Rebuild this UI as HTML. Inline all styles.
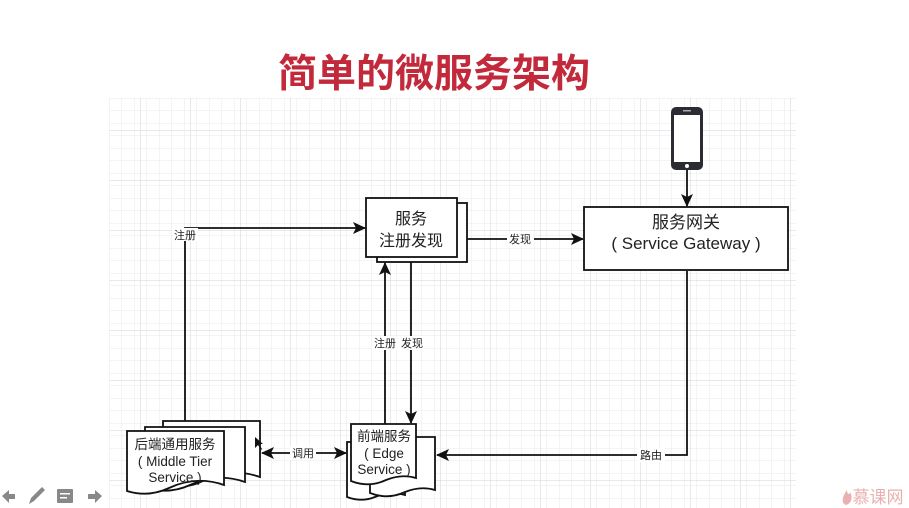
<!DOCTYPE html>
<html><head><meta charset="utf-8"><style>
html,body{margin:0;padding:0;background:#fff;width:909px;height:508px;overflow:hidden}
svg{display:block}
text{font-family:"Liberation Sans","Noto Sans CJK SC",sans-serif}
</style></head><body>
<svg width="909" height="508" viewBox="0 0 909 508" xmlns="http://www.w3.org/2000/svg">
<defs>
<pattern id="minor" x="109" y="98" width="12.5" height="12.5" patternUnits="userSpaceOnUse">
<path d="M0 0H12.5M0 0V12.5" stroke="#eaeaed" stroke-width="1" fill="none"/>
</pattern>
<pattern id="major" x="140" y="130" width="50" height="50" patternUnits="userSpaceOnUse">
<path d="M0 0H50M0 0V50" stroke="#dcdce0" stroke-width="1.3" fill="none"/>
</pattern>
<marker id="ar" markerWidth="13" markerHeight="12" refX="12" refY="6" orient="auto" markerUnits="userSpaceOnUse">
<path d="M0 0L13 6L0 12L3 6Z" fill="#111"/>
</marker>
<marker id="al" markerWidth="13" markerHeight="12" refX="1" refY="6" orient="auto" markerUnits="userSpaceOnUse">
<path d="M13 0L0 6L13 12L10 6Z" fill="#111"/>
</marker>
</defs>
<rect x="109" y="98" width="687" height="410" fill="url(#minor)"/>
<rect x="109" y="98" width="687" height="410" fill="url(#major)"/>

<text x="434" y="87" font-size="39" fill="#c22a3c" text-anchor="middle" style="font-family:'Noto Sans CJK SC',sans-serif;font-weight:bold">简单的微服务架构</text>

<g stroke="#111" stroke-width="1.8" fill="#fff">
<rect x="377" y="203" width="90" height="59"/>
<rect x="366" y="198" width="91" height="59"/>
<rect x="584" y="207" width="204" height="63"/>
</g>
<text x="411" y="224" font-size="16" text-anchor="middle" fill="#222">服务</text>
<text x="411" y="246" font-size="16" text-anchor="middle" fill="#222">注册发现</text>
<text x="686" y="228" font-size="17" text-anchor="middle" fill="#222">服务网关</text>
<text x="686" y="249" font-size="17" text-anchor="middle" fill="#222">( Service Gateway )</text>

<rect x="671" y="107" width="32" height="63" rx="5" fill="#2b2b33"/>
<rect x="674" y="115" width="26" height="47" fill="#fff"/>
<circle cx="687" cy="166" r="2" fill="#fff"/>
<rect x="683" y="110" width="8" height="1.5" fill="#aaa"/>

<g stroke="#111" stroke-width="1.8" fill="none">
<line x1="687" y1="170" x2="687" y2="206" marker-end="url(#ar)"/>
<line x1="467" y1="239" x2="583" y2="239" marker-end="url(#ar)"/>
<polyline points="185,421 185,228 365,228" marker-end="url(#ar)"/>
<line x1="385" y1="437" x2="385" y2="263" marker-end="url(#ar)"/>
<line x1="411" y1="262" x2="411" y2="423" marker-end="url(#ar)"/>
<line x1="262" y1="453" x2="346" y2="453" marker-start="url(#al)" marker-end="url(#ar)"/>
<polyline points="687,271 687,455 437,455" marker-end="url(#ar)"/>
</g>
<g font-size="11" fill="#222" text-anchor="middle">
<rect x="507" y="232" width="27" height="14" fill="#fff"/>
<text x="520" y="243">发现</text>
<rect x="172" y="228" width="26" height="13" fill="#fff"/>
<text x="185" y="239">注册</text>
<rect x="372" y="336" width="26" height="14" fill="#fff"/>
<text x="385" y="347">注册</text>
<rect x="398" y="336" width="26" height="14" fill="#fff"/>
<text x="412" y="347">发现</text>
<rect x="290" y="446" width="26" height="14" fill="#fff"/>
<text x="303" y="457">调用</text>
<rect x="637" y="448" width="28" height="14" fill="#fff"/>
<text x="651" y="459">路由</text>
</g>

<g stroke="#111" stroke-width="1.8" fill="#fff">
<path d="M163 421H260V477C240 470 222 472 205 480C190 488 175 488 163 484Z"/>
<path d="M145 427H245V482C225 475 207 477 190 485C175 492 160 492 145 488Z"/>
<path d="M127 431H224V485C204 478 186 480 169 488C154 495 140 495 127 491Z"/>
<path d="M347 442H405V495C395 492 385 493 375 497C365 501 355 500 347 497Z"/>
<path d="M370 437H435V490C425 487 415 488 405 492C392 498 380 497 370 493Z"/>
<path d="M351 424H416V478C406 475 396 476 386 480C373 486 361 485 351 481Z"/>
</g>
<g font-size="13.5" fill="#222" text-anchor="middle">
<text x="175" y="449">后端通用服务</text>
<text x="175" y="466">( Middle Tier</text>
<text x="175" y="482">Service )</text>
<text x="384" y="441">前端服务</text>
<text x="384" y="458">( Edge</text>
<text x="384" y="474">Service )</text>
</g>
<path d="M255 437L255 448L258 445L261 450L262 449L259 444L263 444Z" fill="#111"/>

<g fill="#888">
<path d="M2 496L9 490V494H15V499H9V503Z"/>
<path d="M29 504L31 498L42 487L45 490L34 501Z"/>
<rect x="57" y="489" width="16" height="14" rx="1"/>
<rect x="60" y="493" width="10" height="1.5" fill="#fff"/>
<rect x="60" y="497" width="7" height="1.5" fill="#fff"/>
<path d="M102 496L95 490V494H88V499H95V503Z"/>
</g>
<path d="M846 505C841 503 842 497 847 490C847 495 850 495 850 492C853 497 852 503 846 505Z" fill="#eab0b0"/>
<text x="878" y="503" font-size="17" fill="#eab0b0" text-anchor="middle" style="font-family:'Noto Sans CJK SC',sans-serif">慕课网</text>
</svg>
</body></html>
